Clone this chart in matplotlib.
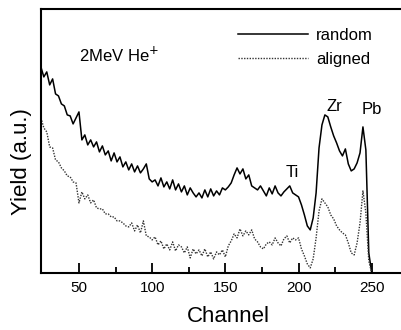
import matplotlib
matplotlib.use("Agg")
import matplotlib.pyplot as plt
import numpy as np

plt.rcParams['font.family'] = ['Liberation Sans', 'DejaVu Sans']

# RBS spectra, channel 24..250 every 2 channels, yield in arbitrary units
channel = np.arange(24, 251, 2)

random_yield = [
    206, 196, 201, 188, 194, 179, 177, 169, 167, 158,
    157, 149, 155, 161, 133, 138, 128, 133, 126, 131,
    121, 127, 118, 122, 112, 120, 111, 116, 106, 111,
    103, 109, 101, 107, 100, 104, 109, 94, 91, 93,
    87, 95, 86, 91, 84, 93, 83, 89, 81, 87,
    78, 85, 80, 76, 80, 75, 83, 76, 84, 77,
    82, 78, 85, 83, 86, 90, 98, 105, 99, 104,
    94, 98, 87, 85, 83, 87, 82, 77, 85, 79,
    87, 80, 77, 81, 84, 87, 80, 78, 76, 68,
    58, 47, 43, 55, 80, 125, 148, 158, 156, 146,
    137, 130, 122, 117, 124, 109, 102, 104, 110, 120,
    146, 123, 20, 0,
]

aligned_yield = [
    155, 145, 141, 126, 125, 113, 111, 105, 102, 97,
    96, 91, 90, 70, 81, 74, 78, 70, 73, 65,
    64, 64, 59, 59, 56, 56, 52, 52, 50, 47,
    46, 50, 42, 48, 40, 52, 37, 36, 33, 36,
    28, 32, 24, 29, 23, 31, 22, 28, 26, 20,
    26, 15, 24, 19, 23, 17, 24, 16, 21, 14,
    21, 18, 23, 16, 27, 32, 39, 35, 44, 37,
    42, 38, 43, 34, 31, 26, 24, 29, 31, 28,
    35, 30, 27, 34, 37, 30, 35, 33, 35, 24,
    17, 9, 5, 14, 35, 62, 74, 70, 66, 58,
    54, 47, 43, 40, 38, 30, 20, 18, 30, 50,
    82, 60, 12, 0,
]

peak_labels = ['Ti', 'Zr', 'Pb']
peak_x = [196, 224.5, 250]
peak_y = [100, 166, 163]

fig = plt.figure(figsize=(4.01, 3.30), dpi=100)
ax = fig.add_axes([0.102, 0.173, 0.898, 0.800])

ax.plot(channel, random_yield, color='black', lw=1.1, label='random')
ax.plot(channel, aligned_yield, color='#333333', lw=1.0, ls=(0, (1, 1)),
        label='aligned')

for name, px, py in zip(peak_labels, peak_x, peak_y):
    ax.text(px, py, name, fontsize=12, ha='center', va='center')

ax.text(0.105, 0.80, '2MeV He$^{+}$', transform=ax.transAxes, fontsize=12)

ax.set_xlim(24, 270)
ax.set_ylim(0, 264)
ax.set_xticks([50, 100, 150, 200, 250])
ax.set_xticks([75, 125, 175, 225], minor=True)
ax.set_yticks([])
ax.tick_params(axis='x', which='major', direction='in', length=7, width=1.3,
               labelsize=11, pad=6)
ax.tick_params(axis='x', which='minor', direction='in', length=4, width=1.3)
ax.spines['right'].set_visible(False)
for s in ['left', 'bottom', 'top']:
    ax.spines[s].set_linewidth(1.5)

ax.set_xlabel('Channel', fontsize=16)
ax.xaxis.set_label_coords(0.52, -0.125)
ax.set_ylabel('Yield (a.u.)', fontsize=16)
ax.yaxis.set_label_coords(-0.025, 0.42)

ax.legend(loc='upper left', bbox_to_anchor=(0.505, 0.985), frameon=False,
          fontsize=12, handlelength=4.2, handletextpad=0.5, labelspacing=0.55)

fig.savefig('out.png', dpi=100)
